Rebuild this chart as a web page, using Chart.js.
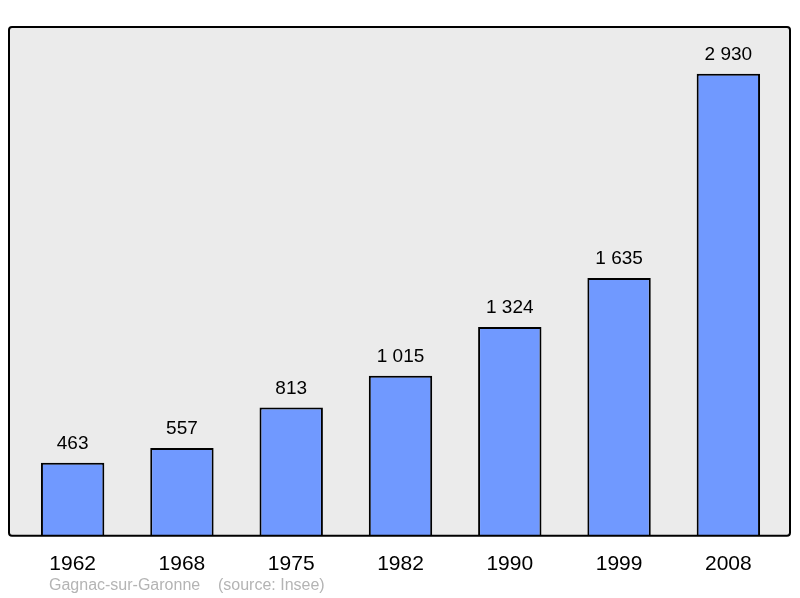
<!DOCTYPE html>
<html><head><meta charset="utf-8">
<script src="https://cdn.jsdelivr.net/npm/chart.js@4"></script>
<style>html,body{margin:0;padding:0;background:#fff}#w{width:800px;height:598px}</style>
</head><body><div id="w"><canvas id="c"></canvas></div>
<script>
const years = ["1962","1968","1975","1982","1990","1999","2008"];
const population = [463,557,813,1015,1324,1635,2930];
const valueLabels = ["463","557","813","1 015","1 324","1 635","2 930"];
const footer = "Gagnac-sur-Garonne    (source: Insee)";

const deco = {
  id:'deco',
  beforeDraw(ch){
    const {ctx, chartArea:a} = ch;
    ctx.save();
    ctx.beginPath();
    ctx.roundRect(9,a.top,781,a.bottom-a.top,3);
    ctx.fillStyle='#ebebeb';ctx.fill();
    ctx.restore();
  },
  afterDatasetsDraw(ch){
    const {ctx, chartArea:a} = ch;
    ctx.save();
    ctx.beginPath();ctx.roundRect(9,a.top,781,a.bottom-a.top,3);
    ctx.lineWidth=2;ctx.strokeStyle='#000';ctx.stroke();
    const meta=ch.getDatasetMeta(0);
    ctx.font='19px "Liberation Sans", Arial, sans-serif';
    ctx.fillStyle='#000';ctx.textAlign='center';ctx.textBaseline='alphabetic';
    meta.data.forEach((b,i)=>ctx.fillText(valueLabels[i], b.x, b.y-14));
    ctx.font='16px "Liberation Sans", Arial, sans-serif';
    ctx.fillStyle='#b4b4b4';ctx.textAlign='left';
    ctx.fillText(footer,49,590);
    ctx.restore();
  }
};

new Chart(document.getElementById('c'),{
  type:'bar',
  data:{labels:years,datasets:[{data:population,backgroundColor:'#7099ff',borderColor:'#000',borderWidth:2,barPercentage:0.58,categoryPercentage:1}]},
  options:{
    responsive:true,maintainAspectRatio:false,animation:false,devicePixelRatio:1,
    layout:{padding:{left:18,right:17,top:27,bottom:13}},
    plugins:{legend:{display:false},tooltip:{enabled:false}},
    scales:{
      x:{grid:{display:false},border:{display:false},ticks:{padding:8,color:'#000',font:{size:21,family:'"Liberation Sans", Arial, sans-serif'}}},
      y:{display:false,min:0,max:3226}
    }
  },
  plugins:[deco]
});
</script></body></html>
